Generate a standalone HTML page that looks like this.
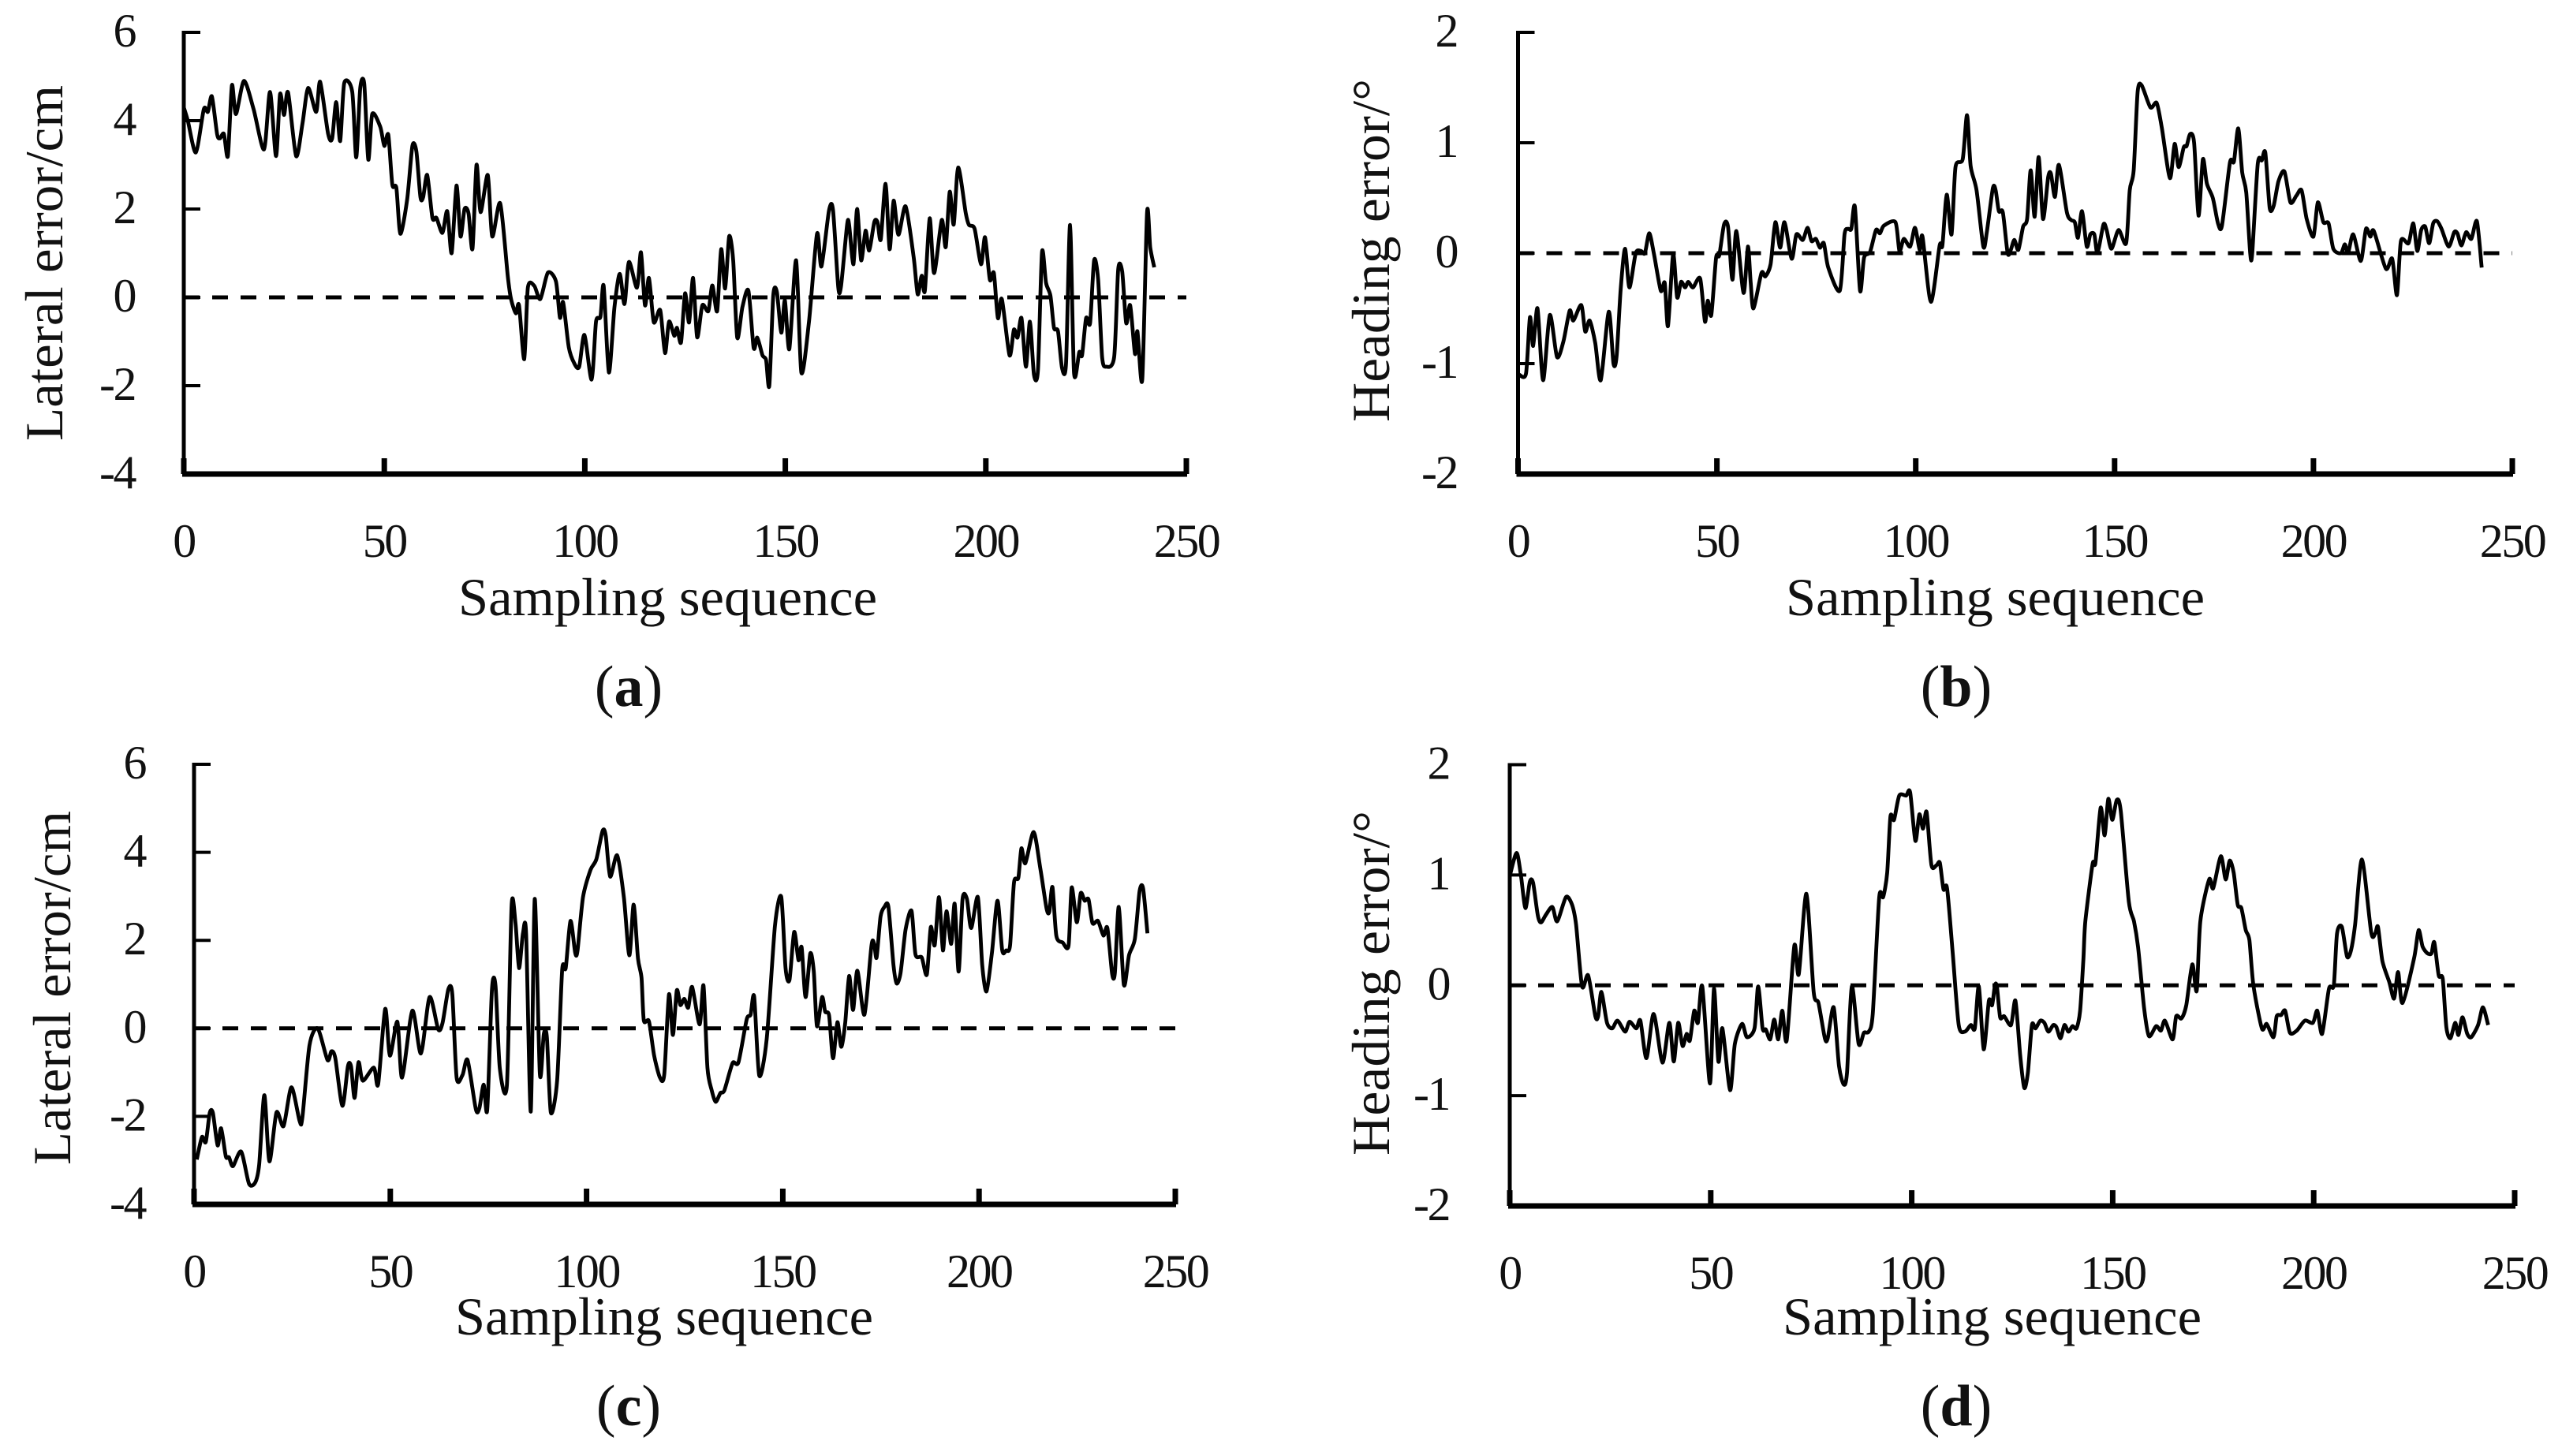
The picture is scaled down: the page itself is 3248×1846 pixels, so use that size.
<!DOCTYPE html>
<html lang="en">
<head>
<meta charset="utf-8">
<title>Lateral and heading error charts</title>
<style>
html,body{margin:0;padding:0;background:#fff;width:3248px;height:1846px;overflow:hidden}
svg{display:block}
text{font-family:"Liberation Serif",serif;fill:#111}
.tick{font-size:60px;letter-spacing:-2.5px}
.title{font-size:68px}
.cap{font-size:74px}
.cap tspan{font-weight:bold}
</style>
</head>
<body>
<svg id="figure" width="3248" height="1846" viewBox="0 0 3248 1846" xmlns="http://www.w3.org/2000/svg">
  <rect width="3248" height="1846" fill="#fff"/>

  <text class="title" x="581" y="780" textLength="531" lengthAdjust="spacingAndGlyphs">Sampling sequence</text>
  <text class="title" x="2264" y="780" textLength="531" lengthAdjust="spacingAndGlyphs">Sampling sequence</text>
  <text class="title" x="577" y="1692" textLength="530" lengthAdjust="spacingAndGlyphs">Sampling sequence</text>
  <text class="title" x="2260" y="1692" textLength="531" lengthAdjust="spacingAndGlyphs">Sampling sequence</text>

  <text class="title" transform="translate(79 559) rotate(-90)" textLength="451" lengthAdjust="spacingAndGlyphs">Lateral error/cm</text>
  <text class="title" transform="translate(1761 535) rotate(-90)" textLength="435" lengthAdjust="spacingAndGlyphs">Heading error/°</text>
  <text class="title" transform="translate(89 1477) rotate(-90)" textLength="449" lengthAdjust="spacingAndGlyphs">Lateral error/cm</text>
  <text class="title" transform="translate(1761 1465) rotate(-90)" textLength="437" lengthAdjust="spacingAndGlyphs">Heading error/°</text>

  <text class="cap" x="797" y="895" text-anchor="middle">(<tspan>a</tspan>)</text>
  <text class="cap" x="2480" y="895" text-anchor="middle">(<tspan>b</tspan>)</text>
  <text class="cap" x="797" y="1807" text-anchor="middle">(<tspan>c</tspan>)</text>
  <text class="cap" x="2480" y="1807" text-anchor="middle">(<tspan>d</tspan>)</text>
</svg>

<script>
var xTickLabels = [0, 50, 100, 150, 200, 250];
var lateralTickLabels = [-4, -2, 0, 2, 4, 6];
var headingTickLabels = [-2, -1, 0, 1, 2];

var samplesA = [0,1,3,5,6,7,8.3,9,10,11,12,13,15,17.4,20,21.5,23,24,25,26,28,29.6,31,33,34,36,37,38,39,40,42,43,44,45,46,47,49,50,51,52,53,54,55.7,57,58,59,59.7,60.7,62,63,64.5,65.7,66.8,68,69,70,71,72,73,74,75.8,76.9,78.9,80.8,81.6,82.8,83.6,84.9,85.8,87.4,88.9,90.8,92.8,93.8,94.6,96,97.4,98.6,99.9,101.7,102.8,103.9,104.7,106,107.4,108.7,109.9,111,113,114,115,116,117.2,118.8,120,121,122.3,123,124,125,126,127,128,129.3,130.8,131.8,133,134,135,136,137,138,139.3,140.8,142.1,143,144.3,145.2,146,147,147.9,149,149.9,151,152.7,154,155.9,157.9,159,160.9,161.9,163.2,163.9,165.4,165.9,167,167.9,168.9,170,170.9,172.2,173,173.8,175,176,177,178.2,180,182,183,184,184.8,186,187.1,189,190,191,192,193.1,195,195.8,197.2,198.8,199.8,201,202,203,204,205.9,207,207.9,208.9,210,211,212,213,214,215,216.1,217,218,219,220,221,222,223.3,224,225,226,227,228,229,230,232,233,234,235,236,237.2,237.8,239,240.2,241,242];
var lateralA = [4.3,4.0,3.28,4.26,4.2,4.55,3.7,3.6,3.7,3.2,4.8,4.15,4.9,4.26,3.35,4.65,3.2,4.6,4.13,4.64,3.2,3.94,4.74,4.2,4.88,3.7,3.6,4.42,3.54,4.85,4.66,3.17,4.74,4.83,3.12,4.15,3.86,3.43,3.68,2.55,2.48,1.44,2.22,3.43,3.3,2.27,2.27,2.77,1.8,1.8,1.46,1.95,1.0,2.53,1.38,2.0,1.9,1.1,3.0,1.93,2.77,1.38,2.13,0.47,-0.04,-0.36,-0.18,-1.4,0.22,0.26,-0.04,0.56,0.36,-0.46,-0.11,-1.13,-1.5,-1.57,-0.85,-1.86,-0.55,-0.44,0.26,-1.7,-0.22,0.53,-0.15,0.8,0.22,1.02,-0.18,0.44,-0.56,-0.29,-1.26,-0.55,-0.87,-0.69,-1.02,0.09,-0.57,0.44,-0.9,-0.18,-0.31,0.27,-0.31,1.09,0.2,1.38,0.84,-0.91,-0.22,0.15,-1.14,-0.91,-1.31,-1.42,-2.0,0.04,0.12,-0.8,-0.07,-1.17,0.84,-1.7,-0.55,1.44,0.7,1.97,1.97,0.23,0.26,1.64,1.65,0.75,2.0,0.84,1.51,1.06,1.71,1.7,1.31,2.57,1.09,2.19,1.42,2.06,0.91,0.07,0.49,0.15,1.79,0.55,1.75,1.14,2.39,1.65,2.94,1.9,1.64,1.55,0.75,1.36,0.4,0.55,-0.47,-0.04,-1.31,-0.73,-0.91,-0.47,-1.57,-0.55,-1.75,-1.64,1.02,0.33,0.04,-0.69,-0.77,-1.6,-1.49,1.64,-1.71,-1.24,-1.31,-0.47,-0.58,0.84,0.4,-1.35,-1.57,-1.35,0.63,0.58,-0.58,-0.18,-1.28,-0.77,-1.86,1.92,1.13,0.68];

var samplesB = [0.3,2,3,3.8,4.9,6.3,8,9.8,11.4,13,13.9,15.9,16.9,18,19.4,20.8,22.8,24,24.8,25.8,26.9,28,29.6,30.9,31.9,33,34.2,35.9,36.9,37.7,39,40,41,42,42.8,44,45.8,47,47.7,48.6,49.8,50.6,51.8,52.8,53.9,54.9,56.7,57.8,58.5,59.2,61.2,62.2,63.5,64.7,65.9,67,68.8,70,71.6,72.8,73.8,74.9,75.9,76.9,78,80.9,82.1,83,83.8,84.7,86,87,88.5,90,91,92,94.9,95.9,97,98.6,99.8,101,101.7,103.8,106,106.7,107.8,109,110,111.8,112.9,113.8,115.3,117,117.9,119.4,120.1,120.9,121.9,123.1,123.9,124.8,125.8,127,128,128.9,129.9,130.9,132,133.3,134,135,136,138,139.1,140,140.8,141.8,143,143.9,144.9,145.7,147.2,148,149.2,151,152.9,153.8,154.8,155.8,156.8,159,160.6,161.9,163.9,165.1,166.1,167.4,168.1,169,170,171.1,172.2,173.2,174.7,176,177,179,180,181.1,182.1,183.1,184.1,184.6,186,187,187.9,189,190,191.2,192.7,194.2,195.7,197,198.3,200,201.1,202.5,203.8,205,206.9,207.9,208.7,210,211.9,213.2,214.3,215.2,218.2,219.8,221,222,223.9,225.1,226.1,227.1,228.1,229.1,230.1,231.1,232.2,234,235.4,236.2,237.2,238.4,239.7,241.1,242.3];
var headingB = [-1.1,-1.09,-0.58,-0.84,-0.5,-1.15,-0.56,-0.94,-0.8,-0.52,-0.61,-0.47,-0.71,-0.61,-0.81,-1.15,-0.53,-1,-0.93,-0.33,0.04,-0.31,0,0.02,0,0.18,-0.01,-0.34,-0.27,-0.66,-0.01,-0.4,-0.26,-0.31,-0.26,-0.31,-0.23,-0.62,-0.43,-0.56,-0.04,-0.02,0.26,0.24,-0.24,0.2,-0.36,0.06,-0.27,-0.5,-0.18,-0.21,-0.1,0.28,0.05,0.28,-0.05,0.17,0.12,0.23,0.11,0.13,0.05,0.09,-0.13,-0.34,0.17,0.22,0.22,0.42,-0.34,-0.04,0.01,0.21,0.18,0.25,0.28,0.02,0.13,0.06,0.23,0.03,0.15,-0.44,0.07,0.07,0.53,0.17,0.78,0.85,1.25,0.79,0.57,0.06,0.2,0.59,0.57,0.38,0.37,0,0.03,0.12,0.03,0.24,0.31,0.75,0.33,0.87,0.31,0.69,0.72,0.51,0.8,0.37,0.3,0.28,0.14,0.38,0.06,0.17,0.17,0,0.26,0.21,0.04,0.21,0.09,0.57,0.75,1.46,1.52,1.32,1.36,1.13,0.68,0.99,0.78,0.96,0.97,1.08,1.0,0.34,0.85,0.63,0.5,0.27,0.25,0.82,0.83,1.13,0.73,0.55,0,0,0.81,0.84,0.91,0.41,0.43,0.65,0.74,0.46,0.52,0.57,0.31,0.15,0.46,0.28,0.27,0.04,0,0.08,0,0.17,-0.07,0.22,0.15,0.2,-0.14,-0.05,-0.38,0.11,0.09,0.27,0.02,0.21,0.24,0.09,0.27,0.29,0.22,0.06,0.19,0.18,0.07,0.19,0.13,0.29,-0.13];

var samplesC = [0.7,2,3,4,4.8,6,6.9,8.1,8.9,9.9,12,14,15.6,16.6,17.9,19.2,21,22.8,24.8,26.9,27.6,29.4,31.5,34,35,36,37.8,39.2,40,40.9,41.9,43,45.8,46.9,48.7,49.9,51.8,53,55.6,57.8,60,62.2,63.3,64.8,65.8,66.9,68.4,69.7,71.8,72.7,73.8,74.7,75.9,76.8,77.9,79.7,80.9,81.9,82.8,83.8,84.6,85.8,86.8,88.1,89.1,89.9,90.9,92.5,93.8,94.7,95.9,97.1,97.7,99.1,101,102.5,104.1,104.9,106,107.8,109.5,110.9,112,113.1,114,114.6,115.9,117.2,118.7,119.8,121,122,123,123.9,124.9,125.9,126.9,128.8,129.8,130.8,131.9,132.9,134.1,135.1,137.2,138.7,140.8,141.8,142.7,144,145.9,148,149.6,150.7,151.7,152.9,154,154.8,155.8,157,157.9,158.7,160,160.8,161.8,162.8,163.9,164.9,165.9,166.9,167.9,169,170.8,172.6,173.3,173.9,174.9,175.9,176.9,178.2,179,180,181.3,182.8,183.8,185.4,186.7,187.7,188.7,189.8,190.8,191.7,192.9,193.8,194.8,195.8,196.9,198,199.7,200.8,201.9,203.3,204.7,205.9,206.9,207.9,208.9,210,210.8,211.8,213.9,215.6,217.2,217.9,218.7,219.7,221.3,222.8,223.6,224.9,225.9,226.9,227.9,228.9,230.3,231.7,232.7,233.9,234.6,235.6,236.9,238.2,239.7,240.9,241.8,242.9];
var lateralC = [-2.98,-2.47,-2.58,-1.92,-1.92,-2.66,-2.27,-2.91,-2.93,-3.13,-2.8,-3.53,-3.5,-3.09,-1.52,-3.02,-1.91,-2.22,-1.34,-2.11,-2.03,-0.39,0,-0.72,-0.52,-0.68,-1.76,-0.86,-0.86,-1.58,-0.77,-1.19,-0.89,-1.27,0.44,-0.62,0.15,-1.12,0.4,-0.57,0.71,-0.02,0.12,0.89,0.78,-1.12,-1.06,-0.72,-1.84,-1.81,-1.28,-1.85,0.89,0.97,-0.9,-1.3,2.79,2.39,1.37,2.16,2.14,-1.89,2.94,-1.03,-0.13,-0.2,-1.91,-1.19,1.33,1.37,2.44,1.72,1.77,2.98,3.6,3.84,4.49,4.37,3.45,3.93,2.98,1.66,2.81,1.59,1.15,0.18,0.16,-0.61,-1.12,-1.05,0.77,-0.15,0.86,0.53,0.67,0.47,0.94,0.09,0.97,-0.9,-1.41,-1.67,-1.47,-1.41,-0.79,-0.77,0.2,0.31,0.72,-1.07,-0.24,2.32,2.99,1.37,1.1,2.19,1.55,1.84,0.71,1.7,1.29,0.05,0.71,0.38,0.29,-0.68,0.14,-0.42,0.12,1.19,0.42,1.31,0.31,1.89,1.91,1.61,2.54,2.76,2.76,1.44,1.02,1.26,2.25,2.67,1.68,1.61,1.22,2.3,1.89,2.98,1.77,2.66,1.92,2.83,1.29,2.94,2.94,2.28,2.98,1.44,0.84,1.73,2.9,1.77,1.77,1.88,3.31,3.42,4.09,3.75,4.46,3.64,2.72,2.65,3.21,2.1,1.95,1.88,3.2,2.41,3.07,2.9,2.93,2.39,2.44,2.11,2.28,1.24,1.26,2.76,0.99,1.66,2.03,3.12,3.18,2.16];

var samplesD = [0,1.7,2.8,3.9,5,5.8,7,7.8,9,10.6,11.8,14,15.5,16.5,18,19.5,21.3,22,22.8,24.2,25.5,26.8,28.7,29.8,31.5,32.5,34,35.8,38,39.7,40.8,41.9,43,44,44.8,45.9,46.8,47.9,49.8,50.8,51.9,52.9,54.8,56,57.8,59,60.9,61.8,62.9,63.7,64.8,65.8,66.8,67.8,68.9,70.8,71.9,73.8,75.6,76.8,78.4,79.1,80.6,81.9,83.1,83.9,85.1,86.8,88.1,89.3,90.3,91.9,92.9,93.9,94.7,95.6,96.9,98.6,99.6,100.9,101.9,102.8,103.7,104.9,106.2,107,107.9,108.8,110.2,111.7,113.2,114.7,115.7,116.7,117.9,119.2,120,120.7,121.2,122,123,124.7,125.8,127,128,128.9,129.9,130.8,132,133,134,135.2,136,137,138,139,140,141,141.9,142.7,143.2,145,145.7,147,148,148.9,149.9,151,152,154,155.3,156.3,157.8,159,160.8,162,163,164.9,165.8,167.1,168.3,169.8,170.9,171.8,174,175,176.9,178.1,179.1,180.1,181.1,182,183.1,184,185,187.1,188.3,190,190.8,191.9,192.9,194.1,195.8,197.8,199.8,200.9,202.1,203.8,205,205.8,207,208.3,209.3,210.3,212,214.3,215.3,216,217.1,218.8,220,221,222.1,225,226.1,227.1,228.3,229.3,230,231.1,232.1,233,234,235.2,236,237,238.2,239.2,240.9,242.1,243.4];
var headingD = [0.99,1.2,0.99,0.7,0.94,0.93,0.63,0.57,0.64,0.71,0.58,0.8,0.73,0.55,-0.01,0.09,-0.28,-0.28,-0.06,-0.34,-0.39,-0.32,-0.42,-0.33,-0.39,-0.32,-0.66,-0.26,-0.7,-0.34,-0.69,-0.34,-0.55,-0.44,-0.5,-0.23,-0.34,-0.01,-0.89,-0.03,-0.69,-0.39,-0.95,-0.53,-0.35,-0.47,-0.39,-0.01,-0.39,-0.4,-0.49,-0.31,-0.49,-0.23,-0.5,0.36,0.1,0.83,-0.06,-0.16,-0.48,-0.48,-0.2,-0.73,-0.9,-0.79,-0.01,-0.53,-0.43,-0.42,-0.26,0.79,0.8,1.02,1.53,1.5,1.72,1.72,1.75,1.31,1.55,1.42,1.57,1.09,1.09,1.11,0.87,0.88,0.29,-0.36,-0.42,-0.36,-0.39,-0.01,-0.58,-0.14,-0.18,0,-0.01,-0.29,-0.28,-0.36,-0.14,-0.64,-0.93,-0.79,-0.36,-0.39,-0.32,-0.34,-0.42,-0.36,-0.38,-0.48,-0.36,-0.42,-0.37,-0.39,-0.23,0.23,0.58,1.1,1.11,1.61,1.36,1.69,1.5,1.68,1.58,0.76,0.58,0.35,-0.2,-0.46,-0.37,-0.41,-0.32,-0.49,-0.28,-0.3,-0.18,0.19,-0.05,0.58,0.96,0.88,1.17,0.96,1.13,1.02,0.73,0.7,0.5,0.41,0,-0.39,-0.35,-0.47,-0.28,-0.27,-0.23,-0.43,-0.41,-0.32,-0.34,-0.23,-0.44,-0.03,0,0.47,0.53,0.26,0.32,0.55,1.14,0.48,0.47,0.53,0.22,0.03,-0.12,0.12,-0.16,0.25,0.5,0.35,0.29,0.29,0.39,0.09,0.06,-0.38,-0.48,-0.34,-0.45,-0.29,-0.44,-0.47,-0.36,-0.2,-0.36];

var SVG_NS = 'http://www.w3.org/2000/svg';
var figure = document.getElementById('figure');

function makeLine(x1, y1, x2, y2, width) {
  var el = document.createElementNS(SVG_NS, 'line');
  el.setAttribute('x1', x1);
  el.setAttribute('y1', y1);
  el.setAttribute('x2', x2);
  el.setAttribute('y2', y2);
  el.setAttribute('stroke', '#000');
  el.setAttribute('stroke-width', width);
  return el;
}

function smoothPath(pts) {
  var d = 'M' + pts[0][0].toFixed(1) + ' ' + pts[0][1].toFixed(1);
  var k = 0.13;
  for (var i = 0; i < pts.length - 1; i++) {
    var p0 = pts[Math.max(i - 1, 0)];
    var p1 = pts[i];
    var p2 = pts[i + 1];
    var p3 = pts[Math.min(i + 2, pts.length - 1)];
    var c1x = p1[0] + (p2[0] - p0[0]) * k;
    var c1y = p1[1] + (p2[1] - p0[1]) * k;
    var c2x = p2[0] - (p3[0] - p1[0]) * k;
    var c2y = p2[1] - (p3[1] - p1[1]) * k;
    d += 'C' + c1x.toFixed(1) + ' ' + c1y.toFixed(1) + ' ' + c2x.toFixed(1) + ' ' + c2y.toFixed(1) + ' ' + p2[0].toFixed(1) + ' ' + p2[1].toFixed(1);
  }
  return d;
}

function drawPanel(id, left, right, top, bottom, labelRight, yLabels, samples, values) {
  var yMin = yLabels[0];
  var yMax = yLabels[yLabels.length - 1];
  var xMax = xTickLabels[xTickLabels.length - 1];
  function xScale(v) { return left + (right - left) * v / xMax; }
  function yScale(v) { return bottom - (bottom - top) * (v - yMin) / (yMax - yMin); }

  var group = document.createElementNS(SVG_NS, 'g');
  
  
  figure.appendChild(group);

  var yAxis = makeLine(left, top - 2, left, bottom, 5);
  
  
  group.appendChild(yAxis);

  var xAxis = makeLine(left - 2, bottom, right + 1, bottom, 7);
  
  
  group.appendChild(xAxis);

  yLabels.forEach(function (label) {
    var y = yScale(label);
    var tick = makeLine(left, y, left + 21, y, 4);
    
    
    group.appendChild(tick);
    var text = document.createElementNS(SVG_NS, 'text');
    text.setAttribute('class', 'tick');
    text.setAttribute('x', labelRight);
    text.setAttribute('y', y + 18);
    text.setAttribute('text-anchor', 'end');
    
    
    text.textContent = String(label);
    group.appendChild(text);
  });

  xTickLabels.forEach(function (label) {
    var x = xScale(label);
    var tick = makeLine(x, bottom, x, bottom - 20, 7);
    
    
    group.appendChild(tick);
    var text = document.createElementNS(SVG_NS, 'text');
    text.setAttribute('class', 'tick');
    text.setAttribute('x', x);
    text.setAttribute('y', bottom + 105);
    text.setAttribute('text-anchor', 'middle');
    
    
    text.textContent = String(label);
    group.appendChild(text);
  });

  var zero = makeLine(left, yScale(0), right, yScale(0), 5);
  zero.setAttribute('stroke-dasharray', '20 16');
  
  
  group.appendChild(zero);

  var pts = samples.map(function (s, i) { return [xScale(s), yScale(values[i])]; });
  var series = document.createElementNS(SVG_NS, 'path');
  series.setAttribute('d', smoothPath(pts));
  series.setAttribute('fill', 'none');
  series.setAttribute('stroke', '#000');
  series.setAttribute('stroke-width', '4.8');
  series.setAttribute('stroke-linejoin', 'round');
  
  
  group.appendChild(series);
}

drawPanel('a', 233, 1504, 41, 601, 171, lateralTickLabels, samplesA, lateralA);
drawPanel('b', 1924.5, 3185, 41, 601, 1847, headingTickLabels, samplesB, headingB);
drawPanel('c', 246, 1490, 969, 1527, 184, lateralTickLabels, samplesC, lateralC);
drawPanel('d', 1914, 3188, 969.5, 1529, 1837, headingTickLabels, samplesD, headingD);
</script>
</body>
</html>
